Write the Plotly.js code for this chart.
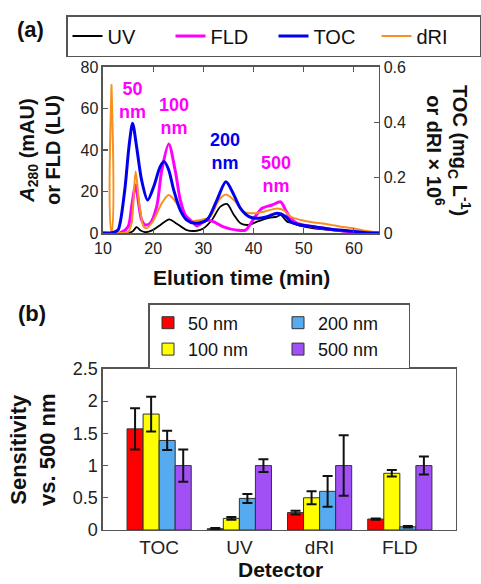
<!DOCTYPE html>
<html><head><meta charset="utf-8">
<script src="https://cdn.plot.ly/plotly-3.0.1.min.js"></script>
<style>html,body{margin:0;padding:0;background:#fff}#chart{width:481px;height:584px}</style>
</head><body><div id="chart"></div>
<script>
// ---- (a) elution profiles ----
const uvTime = [10, 15, 16, 16.7, 17.5, 18.5, 20, 21.5, 23.2, 24.7, 26.7, 28.7, 30, 31.7, 33.4, 34.7, 36.1, 37.4, 39.1, 40.7, 42.7, 44.7, 45.4, 46.7, 47.4, 49.4, 52, 55.4, 58.7, 62, 65];
const uvSignal = [0, 0, 1, 2.8, 1.2, 0.4, 1.5, 4, 6.6, 4.5, 1.4, 1.1, 2.2, 6.3, 12.7, 14, 8.7, 4.7, 3.9, 5.5, 7.1, 7.9, 8.7, 5.5, 5, 3.4, 2.2, 1.4, 0.6, 0.2, 0];

const fldTime = [10, 13.4, 15, 15.7, 16.5, 17.1, 17.7, 18.4, 19.4, 20.7, 21.7, 23.1, 24.4, 25.4, 26.4, 28.1, 28.7, 30.7, 32, 34, 36.7, 38.4, 40.1, 41.7, 43.7, 45.4, 46.4, 47.4, 48.7, 52, 55.4, 58.7, 62, 65];
const fldSignal = [0, 0, 3, 12.7, 23.1, 14.3, 6.3, 3.9, 4.7, 12.7, 30, 42.9, 30, 16, 8.7, 4.7, 3.4, 6.3, 5.5, 3, 1.4, 1.4, 7.1, 11.9, 13.5, 15, 11, 7.1, 4.7, 3, 1.8, 0.8, 0.3, 0];

const tocTime = [10, 12, 13, 13.4, 14.4, 15.2, 15.9, 16.7, 17.7, 18.9, 20.1, 21.4, 22.2, 23.1, 24.1, 25.4, 26.7, 28.4, 30.7, 32.7, 34.5, 36.1, 37.4, 39.1, 40.7, 42.7, 44.7, 46.4, 47.4, 49.4, 52, 55.4, 58.7, 62, 65];
const tocSignal = [0, 0.002, 0.011, 0.035, 0.165, 0.315, 0.397, 0.312, 0.191, 0.119, 0.167, 0.24, 0.258, 0.228, 0.155, 0.083, 0.047, 0.035, 0.047, 0.119, 0.185, 0.137, 0.089, 0.059, 0.053, 0.059, 0.071, 0.06, 0.041, 0.029, 0.023, 0.014, 0.008, 0.002, 0];

const driTime = [10, 11.0, 11.62, 11.7, 11.78, 12.4, 15, 15.7, 16.5, 17.3, 18.1, 18.7, 20.1, 21.7, 23.1, 24.7, 26.1, 27.4, 28.7, 29.4, 31.4, 33.1, 34.5, 36.4, 38, 40, 42, 44.7, 46, 47.4, 49.4, 52, 54.7, 57.4, 59.4, 61.4, 64, 65];
const driSignal = [0, 0, 0, 0.535, 0, 0, 0.004, 0.035, 0.222, 0.095, 0.023, 0.017, 0.047, 0.107, 0.137, 0.107, 0.059, 0.041, 0.045, 0.047, 0.059, 0.119, 0.139, 0.113, 0.077, 0.071, 0.077, 0.089, 0.083, 0.059, 0.047, 0.038, 0.032, 0.023, 0.018, 0.011, 0.004, 0.002];

// ---- (b) sensitivity ----
const detectors = ['TOC', 'UV', 'dRI', 'FLD'];
const sizeNames = ['50 nm', '100 nm', '200 nm', '500 nm'];
const sens50 = [1.57, 0.02, 0.27, 0.17];
const err50 = [0.32, 0.01, 0.03, 0.01];
const sens100 = [1.80, 0.18, 0.50, 0.88];
const err100 = [0.27, 0.02, 0.10, 0.05];
const sens200 = [1.39, 0.49, 0.60, 0.05];
const err200 = [0.15, 0.07, 0.24, 0.01];
const sens500 = [1.00, 1.00, 1.00, 1.00];
const err500 = [0.25, 0.10, 0.47, 0.14];

const FONT = 'Arial, "Liberation Sans", sans-serif';
const AX = '#555';

function lineTrace(name, x, y, yaxis, color, width, rank) {
  return {type: 'scatter', mode: 'lines', name: name, x: x, y: y, xaxis: 'x', yaxis: yaxis,
    line: {color: color, width: width, shape: 'spline', smoothing: 0.8}, legend: 'legend', legendrank: rank};
}
function barTrace(name, y, err, color, group, rank) {
  return {type: 'bar', name: name, x: detectors, y: y, xaxis: 'x2', yaxis: 'y3',
    marker: {color: color, line: {color: '#333', width: 1}},
    error_y: {type: 'data', array: err, visible: true, color: '#111', thickness: 2, width: 5},
    legend: 'legend2', legendgroup: group, legendrank: rank};
}

const data = [
  lineTrace('dRI', driTime, driSignal, 'y2', '#f7901e', 2, 4),
  lineTrace('UV', uvTime, uvSignal, 'y', '#000000', 1.8, 1),
  lineTrace('TOC', tocTime, tocSignal, 'y2', '#0000ee', 3, 3),
  lineTrace('FLD', fldTime, fldSignal, 'y', '#ff00ff', 3, 2),
  barTrace(sizeNames[0], sens50, err50, '#ff0000', 'c1', 1),
  barTrace(sizeNames[1], sens100, err100, '#ffff00', 'c1', 2),
  barTrace(sizeNames[2], sens200, err200, '#55aaf0', 'c2', 3),
  barTrace(sizeNames[3], sens500, err500, '#a050f5', 'c2', 4)
];

const axBase = {showline: true, linecolor: AX, linewidth: 1.5, showgrid: false, zeroline: false,
  tickfont: {size: 16, color: '#222', family: FONT}, ticks: 'inside', ticklen: 5, tickcolor: AX, tickwidth: 1.2};

function ann(text, x, y, size, angle) {
  return {text: text, xref: 'paper', yref: 'paper', x: x / 481, y: 1 - y / 584, xanchor: 'center', yanchor: 'middle',
    textangle: angle || 0, showarrow: false, font: {size: size, color: '#111'}};
}
function peakLabel(text, x, y, color) {
  return {text: '<b>' + text + '</b>', xref: 'x', yref: 'y', x: x, y: y, xanchor: 'center', yanchor: 'middle',
    showarrow: false, align: 'center', font: {size: 18, color: color}};
}

const layout = {
  width: 481, height: 584,
  margin: {l: 0, r: 0, t: 0, b: 0},
  paper_bgcolor: '#fff', plot_bgcolor: '#fff',
  font: {family: FONT, color: '#111'},
  barmode: 'group', bargap: 0.2, bargroupgap: 0,
  xaxis: Object.assign({}, axBase, {domain: [0.2141, 0.7879], range: [10, 65], tickvals: [10, 20, 30, 40, 50, 60], mirror: 'ticks', anchor: 'y'}),
  yaxis: Object.assign({}, axBase, {domain: [0.601, 0.8853], range: [0, 80], dtick: 20, anchor: 'x'}),
  yaxis2: Object.assign({}, axBase, {overlaying: 'y', side: 'right', range: [0, 0.6], dtick: 0.2, anchor: 'x'}),
  xaxis2: Object.assign({}, axBase, {domain: [0.2141, 0.948], range: [-0.7, 3.7], anchor: 'y3', mirror: true, ticks: '', tickfont: {size: 19, color: '#222', family: FONT}}),
  yaxis3: Object.assign({}, axBase, {domain: [0.0925, 0.3682], range: [0, 2.5], dtick: 0.5, anchor: 'x2', mirror: true, tickfont: {size: 18, color: '#222', family: FONT}}),
  legend: {x: 66 / 481, y: 1 - 15 / 584, xanchor: 'left', yanchor: 'top', orientation: 'h', bordercolor: AX, borderwidth: 1.5,
    bgcolor: '#fff', font: {size: 20, family: FONT, color: '#111'}, entrywidth: 58, entrywidthmode: 'pixels'},
  legend2: {x: 148 / 481, y: 1 - 303 / 584, xanchor: 'left', yanchor: 'top', orientation: 'h', traceorder: 'grouped', bordercolor: AX, borderwidth: 1.5,
    bgcolor: '#fff', font: {size: 18, family: FONT, color: '#111'}, entrywidth: 85, entrywidthmode: 'pixels'},
  annotations: [
    ann('<b>(a)</b>', 30, 30, 22),
    ann('<b>(b)</b>', 32, 313, 22),
    ann('<b><i>A</i><sub>280</sub> (mAU)<br>or FLD (LU)</b>', 40, 150, 20, -90),
    ann('<b>TOC (mg<sub>C</sub> L<sup>-1</sup>)<br>or dRI × 10<sup>6</sup></b>', 449, 150, 20, 90),
    ann('<b>Elution time (min)</b>', 241, 277, 21),
    ann('<b>Sensitivity<br>vs. 500 nm</b>', 33, 450, 22, -90),
    ann('<b>Detector</b>', 280, 569, 21),
    peakLabel('50<br>nm', 15.8, 64, '#ff00ff'),
    peakLabel('100<br>nm', 24.2, 56, '#ff00ff'),
    peakLabel('200<br>nm', 34.4, 39.5, '#0000ee'),
    peakLabel('500<br>nm', 44.4, 28, '#ff00ff')
  ]
};

Plotly.newPlot('chart', data, layout, {displayModeBar: false, staticPlot: true});
</script>
</body></html>
